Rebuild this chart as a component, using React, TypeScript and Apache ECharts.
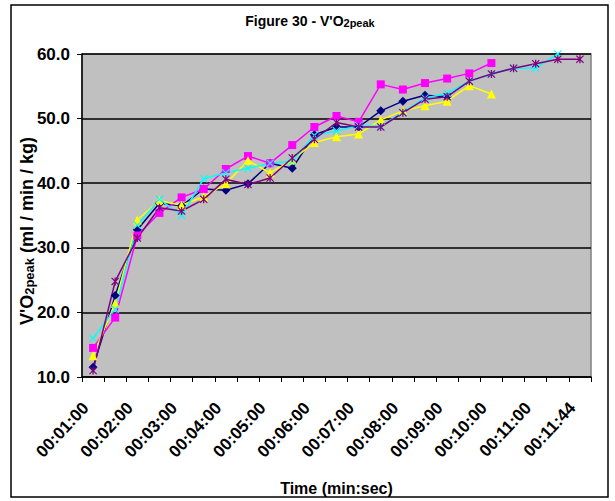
import React, { useEffect, useRef } from "react";
import * as echarts from "echarts";

const categories = [
  "00:01:00", "00:01:30", "00:02:00", "00:02:30", "00:03:00", "00:03:30",
  "00:04:00", "00:04:30", "00:05:00", "00:05:30", "00:06:00", "00:06:30",
  "00:07:00", "00:07:30", "00:08:00", "00:08:30", "00:09:00", "00:09:30",
  "00:10:00", "00:10:30", "00:11:00", "00:11:30", "00:11:44",
];

const navySeries = [11.5, 22.6, 32.8, 36.9, 36.5, 39.1, 38.9, 39.9, 43.1, 42.3, 47.5, 48.7, 48.7, 51.2, 52.7, 53.6, 53.4, null, null, null, null, null, null];
const magentaSeries = [14.5, 19.2, 31.9, 35.4, 37.8, 39.1, 42.2, 44.2, 43.1, 45.9, 48.7, 50.4, 49.5, 55.3, 54.5, 55.5, 56.2, 57.0, 58.6, null, null, null, null];
const yellowSeries = [13.3, 21.4, 34.3, 37.3, 36.6, 37.9, 39.9, 43.5, 41.6, 43.6, 46.3, 47.2, 47.6, 49.8, 51.2, 52.0, 52.7, 55.1, 53.8, null, null, null, null];
const cyanSeries = [16.0, 20.5, 33.5, 37.5, 35.0, 40.7, 41.6, 42.3, 43.1, 43.4, 47.4, 48.1, 48.9, 48.8, 51.0, 53.2, 53.9, 55.8, 56.9, 57.8, 57.8, 60.0, null];
const purpleSeries = [11.0, 24.8, 31.5, 36.2, 35.7, 37.5, 40.6, 39.8, 40.8, 43.9, 46.8, 49.4, 48.7, 48.7, 50.9, 53.0, 53.4, 55.8, 56.9, 57.8, 58.5, 59.2, 59.2];

const FONT = "'Liberation Sans', Arial, sans-serif";
const X_SYMBOL = "path://M0,1L1,0L5,4L9,0L10,1L6,5L10,9L9,10L5,6L1,10L0,9L4,5Z";
const STAR_SYMBOL = "path://M0,1L1,0L5,4L9,0L10,1L6,5L10,9L9,10L5,6L1,10L0,9L4,5Z M4.2,0L5.8,0L5.8,10L4.2,10Z";

export default function App() {
  const ref = useRef<HTMLDivElement>(null);
  useEffect(() => {
    document.body.style.margin = "0";
    const chart = echarts.init(ref.current!, null, { renderer: "svg" });
    const mk = (name: string, data: (number | null)[], color: string, symbol: string, size: number) => ({
      name,
      type: "line",
      data,
      connectNulls: false,
      symbol,
      symbolSize: size,
      lineStyle: { color, width: 1.5 },
      itemStyle: { color, borderWidth: 0 },
    });
    chart.setOption({
      animation: false,
      backgroundColor: "#ffffff",
      title: {
        text: "{a|Figure 30 - V'O}{b|2peak}",
        left: 305,
        top: 8,
        textAlign: "center",
        textStyle: {
          rich: {
            a: { fontFamily: FONT, fontWeight: "bold", fontSize: 14, color: "#000" },
            b: { fontFamily: FONT, fontWeight: "bold", fontSize: 11, color: "#000", padding: [4, 0, 0, 0] },
          },
        },
      },
      graphic: [
        {
          type: "rect",
          shape: { x: 11, y: 5, width: 597, height: 492 },
          style: { fill: "none", stroke: "#000", lineWidth: 1.5 },
          silent: true,
          z: -1,
        },
        {
          type: "text",
          x: 27,
          y: 231,
          rotation: Math.PI / 2,
          style: {
            text: "{a|V'O}{b|2peak}{a| (ml / min / kg)}",
            align: "center",
            verticalAlign: "middle",
            rich: {
              a: { fontFamily: FONT, fontWeight: "bold", fontSize: 18, fill: "#000" },
              b: { fontFamily: FONT, fontWeight: "bold", fontSize: 13, fill: "#000", padding: [5, 0, 0, 0] },
            },
          },
        },
      ],
      grid: {
        left: 82,
        top: 54,
        width: 509,
        height: 329,
        show: true,
        backgroundColor: "#C0C0C0",
        borderColor: "#808080",
        borderWidth: 1.5,
      },
      xAxis: {
        type: "category",
        data: categories,
        boundaryGap: true,
        name: "Time (min:sec)",
        nameLocation: "middle",
        nameGap: 103,
        nameTextStyle: { fontFamily: FONT, fontWeight: "bold", fontSize: 16, color: "#000" },
        axisLine: { lineStyle: { color: "#000", width: 1.5 } },
        axisTick: { show: true, interval: 0, length: 5, lineStyle: { color: "#000" } },
        axisLabel: {
          interval: 1,
          rotate: 47,
          margin: 20,
          padding: [0, 11, 0, 0],
          fontFamily: FONT,
          fontWeight: "bold",
          fontSize: 17,
          color: "#000",
        },
        splitLine: { show: false },
      },
      yAxis: {
        type: "value",
        min: 10,
        max: 60,
        interval: 10,
        axisLine: { show: true, lineStyle: { color: "#000", width: 1.5 } },
        axisTick: { show: true, length: 5, lineStyle: { color: "#000" } },
        axisLabel: {
          formatter: (v: number) => v.toFixed(1),
          margin: 12,
          fontFamily: FONT,
          fontWeight: "bold",
          fontSize: 17,
          color: "#000",
        },
        splitLine: { show: true, lineStyle: { color: "#000", width: 1.5 } },
      },
      series: [
        mk("Series 1", navySeries, "#000080", "diamond", 9),
        mk("Series 2", magentaSeries, "#FF00FF", "rect", 8),
        mk("Series 3", yellowSeries, "#FFFF00", "triangle", 9),
        mk("Series 4", cyanSeries, "#00FFFF", X_SYMBOL, 8),
        mk("Series 5", purpleSeries, "#800080", STAR_SYMBOL, 8),
      ],
    });
    return () => chart.dispose();
  }, []);
  return <div ref={ref} style={{ width: 615, height: 501 }} />;
}
